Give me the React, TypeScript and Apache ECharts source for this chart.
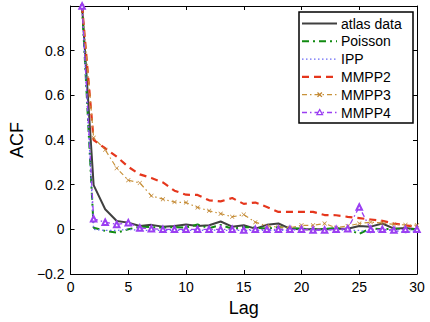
import React, { useEffect, useRef } from "react";
import * as echarts from "echarts";

const lags = Array.from({ length: 30 }, (_, i) => i + 1);
const atlasData = [1, 0.198, 0.09, 0.037, 0.03, 0.015, 0.02, 0.012, 0.015, 0.022, 0.015, 0.018, 0.035, 0.012, 0.018, 0.003, 0.02, 0.026, 0.003, 0.0, 0.0, 0.0, 0.003, 0.003, 0.015, 0.012, 0.026, 0.003, 0.006, 0.0];
const poisson = [1, 0.007, -0.007, -0.015, 0.0, 0.012, 0.01, 0.008, 0.01, 0.008, 0.022, 0.005, 0.02, 0.003, 0.01, 0.008, 0.003, 0.01, 0.005, 0.003, 0.0, 0.002, 0.005, 0.0, -0.02, 0.005, 0.0, 0.003, 0.0, 0.0];
const ipp = [1, 0.0, -0.005, -0.005, 0.0, -0.005, -0.005, -0.005, -0.005, -0.005, -0.005, -0.003, -0.005, -0.005, -0.005, -0.005, -0.005, -0.005, -0.005, 0.0, -0.003, -0.005, 0.0, -0.005, -0.005, -0.015, -0.003, -0.005, -0.015, -0.005];
const mmpp2 = [1, 0.4, 0.363, 0.325, 0.28, 0.246, 0.23, 0.21, 0.173, 0.155, 0.154, 0.13, 0.125, 0.14, 0.114, 0.12, 0.1, 0.078, 0.078, 0.078, 0.078, 0.064, 0.063, 0.056, 0.05, 0.044, 0.038, 0.026, 0.018, 0.012];
const mmpp3 = [1, 0.41, 0.356, 0.274, 0.22, 0.208, 0.15, 0.135, 0.122, 0.12, 0.098, 0.083, 0.07, 0.056, 0.066, 0.032, 0.015, 0.01, 0.007, 0.018, 0.018, 0.026, 0.007, 0.015, 0.026, 0.032, 0.029, 0.022, 0.02, 0.018];
const mmpp4 = [1, 0.047, 0.032, 0.022, 0.03, 0.006, 0.003, 0.0, 0.0, 0.0, 0.0, 0.0, 0.0, 0.0, -0.003, 0.0, 0.0, 0.0, 0.0, 0.0, -0.003, -0.003, 0.0, 0.003, 0.1, 0.0, 0.0, -0.003, 0.0, 0.0];
const legendNames = ["atlas data", "Poisson", "IPP", "MMPP2", "MMPP3", "MMPP4"];

const FONT = "'Liberation Sans', Arial, Helvetica, sans-serif";
const XMARK = "path://M0,1L1,0L5,4L9,0L10,1L6,5L10,9L9,10L5,6L1,10L0,9L4,5Z";

const styles = [
  { color: "#404040", width: 2, dash: null as number[] | null, marker: "" },
  { color: "#118a11", width: 2, dash: [7, 4, 2, 4], marker: "" },
  { color: "#6a6af5", width: 1.3, dash: [1.5, 2.5], marker: "" },
  { color: "#e5361c", width: 2.2, dash: [7, 5], marker: "" },
  { color: "#c8923a", width: 1.2, dash: [5, 3, 1.5, 3], marker: "x" },
  { color: "#9b3ff2", width: 1.3, dash: [5, 3, 1.5, 3], marker: "tri" },
];

const pairs = (vals: number[]) => lags.map((l, i) => [l, vals[i]]);

export default function App() {
  const ref = useRef<HTMLDivElement>(null);
  useEffect(() => {
    if (!ref.current) return;
    const chart = echarts.init(ref.current, undefined, { renderer: "svg" });
    const fmtY = (v: number) => {
      if (Math.abs(v - 1) < 1e-9) return "";
      const r = Math.round(v * 10) / 10;
      if (r === 0) return "0";
      return r < 0 ? "\u2212" + String(Math.abs(r)) : String(r);
    };
    const axisCommon = {
      axisLine: { show: true, onZero: false, lineStyle: { color: "#000", width: 1 } },
      axisTick: { show: true, inside: true, length: 4, lineStyle: { color: "#000", width: 1 } },
      splitLine: { show: false },
    };

    const lx = 299, ly = 12, lw = 114, lh = 111;
    const legendEls: any[] = [
      { type: "rect", shape: { x: lx, y: ly, width: lw, height: lh }, style: { fill: "#fff", stroke: "#000", lineWidth: 1.5 } },
    ];
    legendNames.forEach((name, i) => {
      const s = styles[i];
      const cy = 23.5 + i * 17.8;
      legendEls.push({
        type: "line",
        shape: { x1: 302, y1: cy, x2: 337, y2: cy },
        style: { stroke: s.color, lineWidth: s.width, lineDash: s.dash || undefined },
      });
      if (s.marker === "x") {
        legendEls.push({ type: "line", shape: { x1: 317.5, y1: cy - 2.2, x2: 321.9, y2: cy + 2.2 }, style: { stroke: "#c08430", lineWidth: 1.3 } });
        legendEls.push({ type: "line", shape: { x1: 317.5, y1: cy + 2.2, x2: 321.9, y2: cy - 2.2 }, style: { stroke: "#c08430", lineWidth: 1.3 } });
      } else if (s.marker === "tri") {
        legendEls.push({
          type: "polygon",
          shape: { points: [[319.7, cy - 3], [322.5, cy + 2.2], [316.9, cy + 2.2]] },
          style: { fill: "#fff", stroke: s.color, lineWidth: 1.3 },
        });
      }
      legendEls.push({
        type: "text",
        x: 341,
        y: cy,
        style: { text: name, fontFamily: FONT, fontSize: 14, fill: "#000", verticalAlign: "middle", align: "left" },
      });
    });

    const seriesData = [atlasData, poisson, ipp, mmpp2, mmpp3, mmpp4];
    const series = seriesData.map((vals, i) => {
      const s = styles[i];
      const base: any = {
        name: legendNames[i],
        type: "line",
        data: pairs(vals),
        symbol: "none",
        itemStyle: { color: s.color },
        lineStyle: { color: s.color, width: s.width, type: s.dash || "solid" },
      };
      if (s.marker === "x") {
        base.symbol = XMARK;
        base.symbolSize = 4.5;
        base.itemStyle = { color: "#c08430" };
      } else if (s.marker === "tri") {
        base.symbol = "emptyTriangle";
        base.symbolSize = 5.5;
        base.itemStyle = { color: s.color, borderWidth: 1.3 };
      }
      return base;
    });

    chart.setOption({
      animation: false,
      backgroundColor: "#fff",
      grid: { left: 68, right: 13, top: 6, bottom: 43 },
      xAxis: [
        {
          type: "value",
          min: 0,
          max: 30,
          interval: 5,
          position: "bottom",
          name: "Lag",
          nameLocation: "middle",
          nameGap: 25,
          nameTextStyle: { fontFamily: FONT, fontSize: 18, color: "#000" },
          axisLabel: { fontFamily: FONT, fontSize: 14, color: "#000", margin: 6 },
          ...axisCommon,
        },
        {
          type: "value",
          min: 0,
          max: 30,
          interval: 5,
          position: "top",
          axisLabel: { show: false },
          ...axisCommon,
        },
      ],
      yAxis: [
        {
          type: "value",
          min: -0.2,
          max: 1,
          interval: 0.2,
          position: "left",
          name: "ACF",
          nameLocation: "middle",
          nameGap: 37,
          nameTextStyle: { fontFamily: FONT, fontSize: 18, color: "#000" },
          axisLabel: { fontFamily: FONT, fontSize: 14, color: "#000", margin: 6, formatter: fmtY },
          ...axisCommon,
        },
        {
          type: "value",
          min: -0.2,
          max: 1,
          interval: 0.2,
          position: "right",
          axisLabel: { show: false },
          ...axisCommon,
        },
      ],
      graphic: { elements: legendEls },
      series,
    });
    return () => chart.dispose();
  }, []);
  return <div ref={ref} style={{ width: 430, height: 322, position: "absolute", left: 0, top: 0 }} />;
}
